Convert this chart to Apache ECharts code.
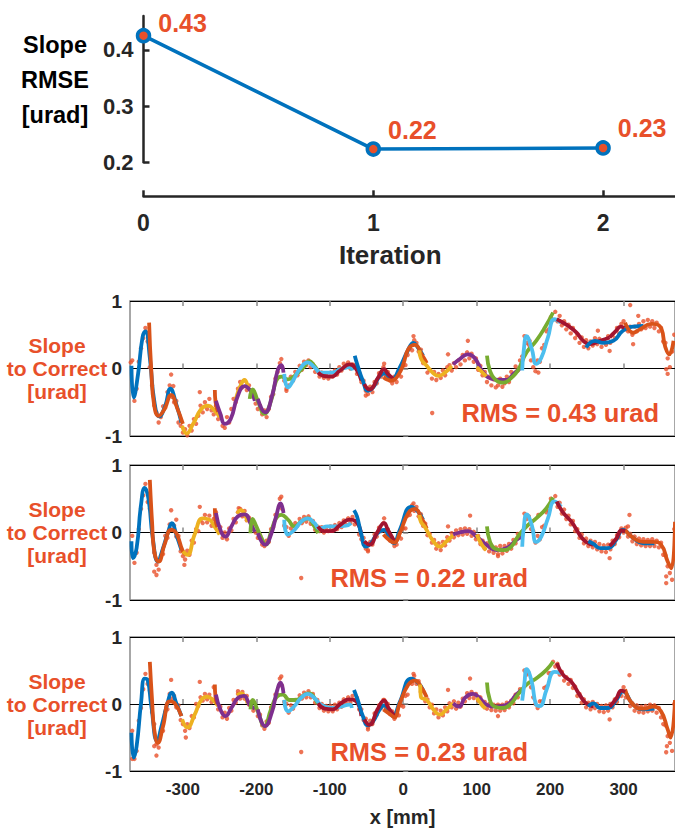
<!DOCTYPE html>
<html>
<head>
<meta charset="utf-8">
<title>Slope RMSE per iteration</title>
<script src="https://cdn.jsdelivr.net/npm/echarts@6/dist/echarts.min.js"></script>
<style>html, body {margin: 0; padding: 0; background: #fff;} #main {width: 675px; height: 828px;}</style>
</head>
<body>
<div id="main"></div>
<script>
// ---- data ----
var iterations = [0, 1, 2];
var rmse = [0.425, 0.2235, 0.2255];
var rmseLabels = ['0.43', '0.22', '0.23'];
var iterTicks = [0, 1, 2];
var rmseTicks = [0.2, 0.3, 0.4];
var xTicks = [-300, -200, -100, 0, 100, 200, 300];
var rmsNames = ['RMS = 0.43 urad', 'RMS = 0.22 urad', 'RMS = 0.23 urad'];
var rmseTitle = ['Slope', 'RMSE', '[urad]'];
var slopeTitle = ['Slope', 'to Correct', '[urad]'];

// measured slope to correct, iteration 0
var resid0 = [[-369,0.12],[-366,-0.48],[-363,-0.3],[-360,0.1],[-357,0.3],[-354,0.45],[-351,0.6],[-348,0.4],[-345,0.02],[-342,-0.25],
[-339,-0.55],[-336,-0.65],[-333,-0.8],[-330,-0.72],[-327,-0.56],[-324,-0.58],[-321,-0.35],[-318,-0.25],[-315,-0.42],[-312,-0.5],
[-309,-0.48],[-306,-0.8],[-303,-0.85],[-300,-0.95],[-297,-0.9],[-294,-0.99],[-291,-0.85],[-288,-0.92],[-285,-0.75],[-282,-0.82],
[-279,-0.7],[-276,-0.55],[-273,-0.65],[-270,-0.5],[-267,-0.6],[-264,-0.45],[-261,-0.62],[-258,-0.68],[-255,-0.55],[-252,-0.75],
[-249,-0.7],[-246,-0.85],[-243,-0.88],[-240,-0.72],[-237,-0.8],[-234,-0.6],[-231,-0.45],[-228,-0.5],[-225,-0.3],[-222,-0.2],
[-219,-0.28],[-216,-0.18],[-213,-0.32],[-210,-0.25],[-207,-0.4],[-204,-0.35],[-201,-0.52],[-198,-0.6],[-195,-0.55],[-192,-0.68],
[-189,-0.62],[-186,-0.72],[-183,-0.6],[-180,-0.42],[-177,-0.38],[-174,-0.15],[-171,-0.05],[-168,0.08],[-165,0.02],[-162,-0.18],
[-159,-0.3],[-156,-0.25],[-153,-0.12],[-150,-0.18],[-147,-0.05],[-144,-0.1],[-141,0.04],[-138,-0.02],[-135,0.1],[-132,0.05],
[-129,0.12],[-126,0.02],[-123,0.06],[-120,-0.05],[-117,-0.02],[-114,-0.12],[-111,-0.06],[-108,-0.14],[-105,-0.08],[-102,-0.15],
[-99,-0.06],[-96,-0.12],[-93,-0.03],[-90,-0.09],[-87,0.02],[-84,-0.03],[-81,0.07],[-78,0.02],[-75,0.09],[-72,0.0],
[-69,0.06],[-66,0.05],[-63,-0.08],[-60,-0.06],[-57,-0.2],[-54,-0.18],[-51,-0.33],[-48,-0.38],[-45,-0.27],[-42,-0.35],
[-39,-0.2],[-36,-0.22],[-33,-0.07],[-30,-0.12],[-27,0.02],[-24,-0.1],[-21,-0.05],[-18,-0.18],[-15,-0.22],[-12,-0.12],
[-9,-0.2],[-6,-0.08],[-3,-0.12],[0,0.04],[3,0.05],[6,0.2],[9,0.3],[12,0.27],[15,0.42],[18,0.38],
[21,0.25],[24,0.28],[27,0.08],[30,0.1],[33,-0.06],[36,-0.02],[39,-0.15],[42,-0.05],[45,-0.17],[48,-0.08],
[51,-0.14],[54,-0.03],[57,-0.1],[60,0.02],[63,0.05],[66,-0.03],[69,0.08],[72,0.02],[75,0.12],[78,0.06],
[81,0.2],[84,0.12],[87,0.24],[90,0.15],[93,0.22],[96,0.1],[99,0.15],[102,-0.02],[105,0.04],[108,-0.1],
[111,-0.05],[114,-0.2],[117,-0.12],[120,-0.25],[123,-0.16],[126,-0.28],[129,-0.25],[132,-0.15],[135,-0.27],[138,-0.22],
[141,-0.12],[144,-0.2],[147,-0.05],[150,-0.1],[153,0.03],[156,-0.03],[159,0.12],[162,0.18],[165,0.48],[168,0.38],
[171,0.35],[174,0.12],[177,0.02],[180,-0.04],[183,0.12],[186,0.1],[189,0.3],[192,0.35],[195,0.55],[198,0.58],
[201,0.76],[204,0.72],[207,0.84],[210,0.7],[213,0.78],[216,0.64],[219,0.7],[222,0.58],[225,0.65],[228,0.52],
[231,0.6],[234,0.45],[237,0.5],[240,0.38],[243,0.46],[246,0.32],[249,0.42],[252,0.3],[255,0.4],[258,0.34],
[261,0.45],[264,0.36],[267,0.44],[270,0.32],[273,0.42],[276,0.35],[279,0.48],[282,0.38],[285,0.5],[288,0.45],
[291,0.6],[294,0.52],[297,0.66],[300,0.7],[303,0.58],[306,0.55],[309,0.62],[312,0.5],[315,0.62],[318,0.55],
[321,0.66],[324,0.58],[327,0.7],[330,0.6],[333,0.72],[336,0.62],[339,0.7],[342,0.6],[345,0.68],[348,0.55],
[351,0.6],[354,0.4],[357,0.38],[360,0.15],[363,0.02],[366,0.25],[369,0.5],
[-371,0.09],[-316,-0.09],[-313,-0.26],[-277,-0.35],[-166,0.14],[-159,-0.33],[-26,0.07],[-51,-0.4],[14,0.48],[61,0.21],
[88,0.41],[184,-0.06],[172,0.41],[265,0.56],[281,0.26],[309,0.94],[313,0.36],[320,0.78],[358,-0.01],[360,-0.08]];

// iteration 1
var resid1 = [[-369,-0.05],[-366,-0.45],[-363,-0.3],[-360,0.05],[-357,0.35],[-354,0.55],[-351,0.72],[-348,0.45],[-345,0.35],[-342,0.0],
[-339,-0.3],[-336,-0.48],[-333,-0.55],[-330,-0.35],[-327,-0.32],[-324,-0.05],[-321,-0.08],[-318,0.12],[-315,0.04],[-312,0.1],
[-309,-0.06],[-306,-0.05],[-303,-0.28],[-300,-0.35],[-297,-0.4],[-294,-0.27],[-291,-0.33],[-288,-0.12],[-285,-0.15],[-282,0.05],
[-279,0.02],[-276,0.18],[-273,0.14],[-270,0.26],[-267,0.15],[-264,0.25],[-261,0.1],[-258,0.2],[-255,0.3],[-252,0.02],
[-249,0.08],[-246,-0.08],[-243,0.0],[-240,-0.1],[-237,0.06],[-234,0.03],[-231,0.2],[-228,0.15],[-225,0.3],[-222,0.35],
[-219,0.24],[-216,0.32],[-213,0.18],[-210,0.22],[-207,0.06],[-204,0.12],[-201,0.0],[-198,-0.08],[-195,-0.04],[-192,-0.18],
[-189,-0.2],[-186,-0.12],[-183,-0.14],[-180,0.05],[-177,0.08],[-174,0.26],[-171,0.25],[-168,0.5],[-165,0.35],[-162,0.1],
[-159,0.08],[-156,-0.05],[-153,0.06],[-150,0.02],[-147,0.14],[-144,0.1],[-141,0.2],[-138,0.14],[-135,0.23],[-132,0.16],
[-129,0.24],[-126,0.13],[-123,0.17],[-120,0.04],[-117,0.09],[-114,0.02],[-111,0.08],[-108,0.0],[-105,0.07],[-102,0.02],
[-99,0.09],[-96,0.03],[-93,0.11],[-90,0.05],[-87,0.14],[-84,0.08],[-81,0.18],[-78,0.12],[-75,0.21],[-72,0.14],
[-69,0.23],[-66,0.12],[-63,0.16],[-60,-0.03],[-57,-0.1],[-54,-0.08],[-51,-0.24],[-48,-0.26],[-45,-0.14],[-42,-0.18],
[-39,-0.03],[-36,-0.06],[-33,0.07],[-30,0.02],[-27,0.14],[-24,0.02],[-21,0.05],[-18,-0.12],[-15,-0.1],[-12,-0.2],
[-9,-0.18],[-6,-0.06],[-3,-0.09],[0,0.06],[3,0.06],[6,0.25],[9,0.26],[12,0.4],[15,0.32],[18,0.38],
[21,0.24],[24,0.27],[27,0.1],[30,0.13],[33,-0.04],[36,-0.02],[39,-0.15],[42,-0.11],[45,-0.24],[48,-0.16],
[51,-0.26],[54,-0.14],[57,-0.19],[60,-0.07],[63,-0.12],[66,-0.01],[69,-0.07],[72,0.03],[75,-0.04],[78,0.05],
[81,-0.03],[84,0.06],[87,-0.02],[90,0.05],[93,-0.05],[96,0.01],[99,-0.1],[102,-0.05],[105,-0.17],[108,-0.12],
[111,-0.24],[114,-0.16],[117,-0.28],[120,-0.19],[123,-0.3],[126,-0.22],[129,-0.32],[132,-0.2],[135,-0.31],[138,-0.2],
[141,-0.27],[144,-0.17],[147,-0.24],[150,-0.11],[153,-0.16],[156,-0.02],[159,-0.07],[162,0.0],[165,0.28],[168,0.2],
[171,0.24],[174,0.05],[177,0.02],[180,-0.15],[183,-0.05],[186,-0.1],[189,0.08],[192,0.1],[195,0.3],[198,0.32],
[201,0.5],[204,0.46],[207,0.54],[210,0.38],[213,0.44],[216,0.28],[219,0.34],[222,0.2],[225,0.25],[228,0.12],
[231,0.17],[234,0.02],[237,0.05],[240,-0.08],[243,-0.03],[246,-0.16],[249,-0.09],[252,-0.2],[255,-0.12],[258,-0.22],
[261,-0.14],[264,-0.25],[267,-0.17],[270,-0.28],[273,-0.19],[276,-0.29],[279,-0.18],[282,-0.25],[285,-0.12],[288,-0.17],
[291,-0.04],[294,-0.07],[297,0.06],[300,0.0],[303,0.07],[306,-0.06],[309,-0.02],[312,-0.13],[315,-0.06],[318,-0.17],
[321,-0.09],[324,-0.19],[327,-0.1],[330,-0.2],[333,-0.11],[336,-0.2],[339,-0.1],[342,-0.2],[345,-0.12],[348,-0.22],
[351,-0.15],[354,-0.33],[357,-0.34],[360,-0.5],[363,-0.6],[366,-0.7],[369,0.05],
[-316,0.33],[-309,0.19],[-277,0.38],[-339,-0.58],[-336,-0.63],[-298,-0.48],[-166,0.53],[-224,0.36],[-48,-0.28],[-26,0.21],
[14,0.43],[91,0.25],[61,0.09],[129,-0.35],[184,0.26],[308,0.26],[306,0.09],[281,-0.38],[358,-0.75],[358,-0.65]];

// iteration 2
var resid2 = [[-369,-0.4],[-366,-0.82],[-363,-0.7],[-360,-0.25],[-357,-0.06],[-354,0.22],[-351,0.45],[-348,0.3],[-345,0.2],[-342,-0.12],
[-339,-0.3],[-336,-0.6],[-333,-0.65],[-330,-0.42],[-327,-0.4],[-324,-0.12],[-321,-0.08],[-318,0.15],[-315,0.08],[-312,0.12],
[-309,-0.05],[-306,-0.02],[-303,-0.24],[-300,-0.3],[-297,-0.4],[-294,-0.3],[-291,-0.36],[-288,-0.18],[-285,-0.2],[-282,0.0],
[-279,-0.03],[-276,0.1],[-273,0.05],[-270,0.15],[-267,0.07],[-264,0.14],[-261,0.03],[-258,0.25],[-255,0.1],[-252,-0.08],
[-249,-0.04],[-246,-0.2],[-243,-0.13],[-240,-0.22],[-237,-0.06],[-234,-0.1],[-231,0.06],[-228,0.02],[-225,0.15],[-222,0.08],
[-219,0.18],[-216,0.08],[-213,0.12],[-210,-0.01],[-207,0.03],[-204,-0.1],[-201,-0.05],[-198,-0.18],[-195,-0.16],[-192,-0.32],
[-189,-0.37],[-186,-0.26],[-183,-0.28],[-180,-0.05],[-177,-0.04],[-174,0.14],[-171,0.14],[-168,0.38],[-165,0.27],[-162,0.03],
[-159,0.0],[-156,-0.13],[-153,-0.02],[-150,-0.07],[-147,0.06],[-144,0.02],[-141,0.13],[-138,0.08],[-135,0.17],[-132,0.1],
[-129,0.19],[-126,0.1],[-123,0.15],[-120,0.02],[-117,0.06],[-114,-0.06],[-111,0.0],[-108,-0.1],[-105,-0.03],[-102,-0.11],
[-99,-0.03],[-96,-0.11],[-93,-0.01],[-90,-0.08],[-87,0.02],[-84,-0.04],[-81,0.07],[-78,0.01],[-75,0.1],[-72,0.02],
[-69,0.12],[-66,0.06],[-63,0.09],[-60,-0.08],[-57,-0.08],[-54,-0.24],[-51,-0.22],[-48,-0.35],[-45,-0.25],[-42,-0.3],
[-39,-0.14],[-36,-0.16],[-33,-0.02],[-30,-0.06],[-27,0.06],[-24,-0.04],[-21,0.0],[-18,-0.15],[-15,-0.11],[-12,-0.22],
[-9,-0.12],[-6,-0.17],[-3,-0.02],[0,-0.04],[3,0.12],[6,0.14],[9,0.32],[12,0.3],[15,0.42],[18,0.3],
[21,0.34],[24,0.18],[27,0.2],[30,0.04],[33,0.07],[36,-0.05],[39,-0.01],[42,-0.14],[45,-0.08],[48,-0.2],
[51,-0.1],[54,-0.17],[57,-0.05],[60,-0.11],[63,0.01],[66,-0.05],[69,0.04],[72,-0.07],[75,0.02],[78,-0.04],
[81,0.08],[84,0.04],[87,0.16],[90,0.09],[93,0.18],[96,0.09],[99,0.15],[102,0.05],[105,0.1],[108,-0.02],
[111,0.03],[114,-0.07],[117,0.0],[120,-0.09],[123,-0.01],[126,-0.1],[129,-0.01],[132,-0.1],[135,-0.01],[138,-0.09],
[141,0.02],[144,-0.05],[147,0.05],[150,0.01],[153,0.14],[156,0.1],[159,0.22],[162,0.2],[165,0.5],[168,0.44],
[171,0.46],[174,0.25],[177,0.1],[180,0.0],[183,-0.06],[186,0.04],[189,0.04],[192,0.24],[195,0.26],[198,0.46],
[201,0.46],[204,0.63],[207,0.56],[210,0.6],[213,0.44],[216,0.48],[219,0.35],[222,0.4],[225,0.3],[228,0.36],
[231,0.24],[234,0.26],[237,0.12],[240,0.15],[243,0.02],[246,0.07],[249,-0.05],[252,0.02],[255,-0.08],[258,0.03],
[261,-0.06],[264,0.0],[267,-0.11],[270,-0.03],[273,-0.12],[276,-0.02],[279,-0.1],[282,0.0],[285,-0.05],[288,0.07],
[291,0.03],[294,0.15],[297,0.12],[300,0.25],[303,0.1],[306,0.1],[309,-0.03],[312,0.01],[315,-0.1],[318,-0.02],
[321,-0.12],[324,-0.04],[327,-0.13],[330,-0.03],[333,-0.11],[336,-0.01],[339,-0.1],[342,-0.02],[345,-0.13],[348,-0.06],
[351,-0.2],[354,-0.3],[357,-0.32],[360,-0.48],[363,-0.58],[366,-0.7],[369,0.0],
[-369,-0.82],[-316,0.36],[-277,0.33],[-339,-0.63],[-336,-0.77],[-296,-0.5],[-225,0.19],[-166,0.41],[-48,-0.38],[-26,0.06],
[14,0.45],[91,0.38],[61,0.21],[129,-0.18],[308,0.43],[281,-0.23],[358,-0.72],[359,-0.63]];

// piecewise fitted curves, one list of [x, slope] per window
var fits0 = [
[[-370,0.04],[-367,-0.43],[-361,-0.08],[-355,0.46],[-351,0.55],[-345,0.16],[-339,-0.48],[-332,-0.71],[-324,-0.55],[-317,-0.3],[-309,-0.53],[-302,-0.8]],
[[-346,0.68],[-343,-0.03],[-339,-0.55],[-333,-0.7],[-325,-0.6],[-316,-0.39],[-308,-0.58],[-300,-0.82]],
[[-301,-0.85],[-295,-0.96],[-286,-0.82],[-275,-0.6],[-266,-0.55],[-257,-0.62],[-250,-0.72]],
[[-228,-0.45],[-221,-0.24],[-216,-0.17],[-212,-0.26]],
[[-256.5,-0.32],[-255.5,-0.5],[-252,-0.64]],
[[-255,-0.48],[-249,-0.67],[-243,-0.82],[-235,-0.75],[-226,-0.43],[-216,-0.26],[-208,-0.33],[-202,-0.48]],
[[-209,-0.45],[-205,-0.31],[-198,-0.48],[-189,-0.67],[-180,-0.48],[-173,-0.18],[-166,-0.12],[-157,-0.16],[-148,-0.11],[-134,0.04],[-128,0.11],[-121,0.04],[-116,-0.04]],
[[-198,-0.45],[-188,-0.65],[-178,-0.38],[-171,-0.03],[-166,0.05],[-163,-0.06]],
[[-162,-0.08],[-157,-0.28],[-150,-0.18],[-141,-0.01],[-130,0.09],[-121,0.02],[-112,-0.06],[-98,-0.06],[-85,-0.01],[-73,0.02],[-69,-0.03]],
[[-116,-0.06],[-109,-0.11],[-98,-0.12],[-86,-0.03],[-73,0.06],[-64,-0.01],[-57,-0.18]],
[[-66,0.19],[-62,0.04],[-55,-0.18],[-48,-0.33],[-41,-0.28],[-32,-0.11],[-25,-0.07],[-16,-0.17],[-5,0.01],[6,0.26],[14,0.38],[20,0.31],[27,0.19]],
[[-53,-0.23],[-46,-0.31],[-34,-0.13],[-26,-0.01],[-21,-0.08],[-14,-0.15]],
[[-27,-0.13],[-16,-0.18],[-7,-0.1],[0,0.06],[7,0.29],[16,0.35],[25,0.21],[32,0.08]],
[[22,0.27],[24,0.15],[32,0.04],[41,-0.07],[48,-0.11],[57,-0.06],[66,0.04]],
[[68,0.06],[77,0.14],[88,0.21],[97,0.16],[109,-0.06],[120,-0.15],[131,-0.17],[141,-0.17],[150,-0.08],[161,0.02]],
[[100,0.02],[107,-0.05],[113,-0.12]],
[[114,0.19],[118,-0.03],[125,-0.16],[136,-0.21],[147,-0.14],[156,-0.03],[168,0.24],[181,0.41],[193,0.61],[204,0.83]],
[[162,-0.03],[164,0.26],[168,0.48],[175,0.29],[181,0.07],[188,0.16],[197,0.46],[206,0.73],[215,0.68]],
[[209,0.73],[222,0.65],[236,0.53],[245,0.41],[254,0.36],[268,0.41],[281,0.46]],
[[249,0.31],[261,0.41],[272,0.38],[286,0.41],[299,0.56],[313,0.62],[327,0.63]],
[[302,0.68],[313,0.53],[322,0.58],[338,0.66],[349,0.63],[357,0.31],[362,0.21],[368,0.41]],
[[281,0.46],[290,0.56],[296,0.62],[301,0.6]]
];
var fits1 = [
[[-370,-0.13],[-368,-0.38],[-363,-0.23],[-357,0.41],[-352,0.66],[-347,0.51],[-341,-0.08],[-334,-0.43],[-327,-0.23],[-320,0.01],[-315,0.14],[-309,-0.03],[-302,-0.26]],
[[-345,0.78],[-342,0.16],[-339,-0.28],[-333,-0.43],[-325,-0.18],[-316,0.04],[-309,-0.01],[-300,-0.28],[-295,-0.33]],
[[-300,-0.28],[-294,-0.33],[-284,-0.03],[-273,0.21],[-264,0.19],[-257,0.09],[-250,-0.03]],
[[-226,0.28],[-221,0.33],[-216,0.27],[-212,0.16]],
[[-256.5,0.36],[-255.5,0.18],[-253,0.08]],
[[-255,0.29],[-248,0.01],[-242,-0.06],[-234,0.09],[-225,0.24],[-216,0.27],[-207,0.11],[-202,0.01]],
[[-208,-0.01],[-205,0.2],[-200,0.09],[-193,-0.08],[-187,-0.18],[-180,0.01],[-173,0.21],[-166,0.26],[-157,0.19],[-148,0.09],[-139,0.16],[-130,0.21],[-121,0.09],[-116,-0.01]],
[[-198,-0.01],[-188,-0.18],[-180,-0.03],[-173,0.24],[-167,0.43],[-163,0.29]],
[[-162,0.19],[-157,-0.03],[-148,0.04],[-139,0.16],[-130,0.21],[-121,0.14],[-114,0.06],[-103,0.09],[-89,0.09],[-78,0.1],[-71,0.14]],
[[-116,0.09],[-107,0.02],[-98,0.02],[-86,0.11],[-73,0.19],[-64,0.16],[-57,-0.03]],
[[-67,0.33],[-63,0.24],[-57,-0.03],[-51,-0.21],[-44,-0.16],[-35,-0.01],[-26,0.04],[-18,-0.1],[-13,-0.16],[-5,0.03],[11,0.38],[20,0.31],[27,0.19]],
[[-53,-0.13],[-46,-0.18],[-35,0.01],[-26,0.14],[-21,0.04],[-12,-0.13]],
[[-27,-0.03],[-18,-0.12],[-12,-0.15],[-5,-0.02],[7,0.29],[16,0.35],[25,0.21],[32,0.06]],
[[22,0.26],[24,0.16],[29,0.09],[41,-0.13],[50,-0.21],[59,-0.13],[68,-0.04]],
[[68,-0.03],[77,0.0],[88,0.02],[100,-0.06],[113,-0.18],[127,-0.26],[141,-0.23],[154,-0.11],[161,-0.06]],
[[100,-0.03],[107,-0.18],[113,-0.26]],
[[114,0.09],[118,-0.13],[125,-0.24],[136,-0.26],[147,-0.21],[156,-0.06],[168,0.09],[181,0.21],[195,0.36],[204,0.52]],
[[162,-0.21],[164,0.06],[168,0.27],[175,0.11],[181,-0.14],[188,-0.06],[197,0.21],[206,0.46],[215,0.38]],
[[209,0.46],[218,0.29],[229,0.16],[240,-0.03],[249,-0.14],[259,-0.18]],
[[252,-0.13],[259,-0.17],[268,-0.23],[279,-0.23],[290,-0.11],[299,0.04],[313,-0.08],[327,-0.16],[342,-0.16]],
[[302,0.04],[313,-0.08],[327,-0.14],[340,-0.14],[351,-0.18],[360,-0.43],[365,-0.53],[370,0.16]],
[[281,-0.2],[290,-0.09],[297,0.03],[302,0.02]]
];
var fits2 = [
[[-370,-0.43],[-367,-0.8],[-363,-0.63],[-357,0.01],[-352,0.38],[-348,0.36],[-343,-0.03],[-335,-0.55],[-329,-0.33],[-321,0.01],[-315,0.17],[-309,0.01],[-302,-0.18]],
[[-345,0.63],[-342,0.06],[-339,-0.38],[-334,-0.58],[-327,-0.33],[-318,0.04],[-311,0.01],[-302,-0.18]],
[[-301,-0.23],[-294,-0.35],[-284,-0.16],[-275,0.06],[-267,0.11],[-259,0.06],[-252,-0.03]],
[[-226,0.13],[-221,0.16],[-216,0.12],[-212,0.01]],
[[-256.5,0.29],[-255.5,0.1],[-253,0.0]],
[[-255,0.14],[-249,-0.08],[-242,-0.18],[-234,-0.06],[-225,0.09],[-217,0.12],[-209,-0.01],[-202,-0.07]],
[[-208,-0.08],[-205,0.06],[-198,-0.11],[-189,-0.33],[-180,-0.08],[-172,0.11],[-164,0.14],[-155,0.06],[-146,0.06],[-134,0.14],[-128,0.16],[-119,0.06],[-116,-0.01]],
[[-198,-0.08],[-188,-0.33],[-179,-0.13],[-172,0.19],[-167,0.32],[-163,0.16]],
[[-162,0.06],[-157,-0.11],[-148,-0.03],[-139,0.09],[-130,0.15],[-121,0.09],[-112,-0.01],[-98,-0.06],[-85,-0.04],[-73,-0.01],[-70,-0.06]],
[[-116,0.01],[-107,-0.07],[-96,-0.08],[-85,0.01],[-73,0.07],[-64,0.04],[-57,-0.18]],
[[-67,0.21],[-62,0.06],[-55,-0.18],[-48,-0.32],[-41,-0.26],[-32,-0.08],[-26,-0.02],[-18,-0.13],[-14,-0.18],[-5,0.02],[11,0.38],[20,0.32],[27,0.21]],
[[-53,-0.23],[-46,-0.31],[-35,-0.08],[-26,0.05],[-20,-0.06],[-12,-0.18]],
[[-27,-0.08],[-17,-0.16],[-12,-0.2],[-5,0.0],[7,0.29],[16,0.35],[25,0.24],[32,0.1]],
[[23,0.29],[24,0.11],[32,0.06],[41,-0.08],[50,-0.16],[59,-0.08],[68,0.01]],
[[68,0.01],[76,-0.04],[84,0.09],[95,0.15],[104,0.09],[113,-0.01],[127,-0.04],[141,-0.01],[154,0.14],[161,0.21]],
[[100,0.09],[107,-0.01],[112,-0.07]],
[[114,0.32],[118,0.06],[125,-0.04],[136,-0.06],[147,0.01],[156,0.14],[168,0.29],[181,0.38],[195,0.51],[204,0.63]],
[[162,0.05],[165,0.31],[168,0.52],[175,0.33],[181,-0.01],[186,-0.03],[195,0.21],[206,0.48],[215,0.46]],
[[209,0.61],[218,0.43],[229,0.33],[240,0.14],[249,0.01],[259,-0.04]],
[[252,-0.04],[259,0.01],[268,-0.06],[279,-0.06],[290,0.06],[299,0.19],[313,-0.01],[327,-0.08],[342,-0.07]],
[[302,0.22],[313,-0.01],[327,-0.07],[340,-0.04],[351,-0.11],[360,-0.38],[364,-0.5],[370,0.06]],
[[281,-0.04],[290,0.08],[297,0.2],[302,0.18]]
];

// ---- styling ----
var palette = ['#0072BD', '#D95319', '#EDB120', '#7E2F8E', '#77AC30', '#4DBEEE', '#A2142F'];
var fitColors = [0, 1, 2, 2, 1, 3, 4, 3, 5, 6, 0, 6, 1, 2, 3, 2, 4, 5, 6, 0, 1, 6];
var labelOffsets = [[2, -13], [2, -19], [2, -20]];
var red = '#E8502A';
var ink = '#262626';
var boxGrey = '#8a8a8a';
var font = '"Liberation Sans", Arial, sans-serif';

var resids = [resid0, resid1, resid2];
var fits = [fits0, fits1, fits2];
var panelTop = [301, 465, 637];
var panelH = 135;
var legendPos = [[430, 399], [299, 564], [299, 738]];

var chart = echarts.init(document.getElementById('main'), null, {renderer: 'svg'});

var grids = [{left: 143.5, top: 16, width: 531.5, height: 146.3}];
var xAxes = [{
  gridIndex: 0, type: 'value', min: 0, max: 2.313, interval: 1, offset: 34,
  axisLine: {show: true, onZero: false, lineStyle: {color: ink, width: 2.5}},
  axisTick: {show: true, inside: true, length: 6, customValues: iterTicks, lineStyle: {color: ink, width: 2.5}},
  axisLabel: {customValues: iterTicks, fontSize: 23, fontWeight: 'bold', color: ink, fontFamily: font, margin: 15},
  splitLine: {show: false},
  name: 'Iteration', nameLocation: 'middle', nameGap: 46,
  nameTextStyle: {fontSize: 26, fontWeight: 'bold', color: ink, fontFamily: font, padding: [0, 38, 0, 0]}
}];
var yAxes = [{
  gridIndex: 0, type: 'value', min: 0.2, max: 0.46, interval: 0.1,
  axisLine: {show: true, onZero: false, lineStyle: {color: ink, width: 2.5}},
  axisTick: {show: true, inside: true, length: 6, customValues: rmseTicks, lineStyle: {color: ink, width: 2.5}},
  axisLabel: {customValues: rmseTicks, fontSize: 22, fontWeight: 'bold', color: ink, fontFamily: font, margin: 10,
    formatter: function (v) { return v.toFixed(1); }},
  splitLine: {show: false}
}];
var series = [{
  type: 'line', xAxisIndex: 0, yAxisIndex: 0, clip: false,
  data: iterations.map(function (x, i) {
    return {value: [x, rmse[i]], label: {offset: labelOffsets[i]}};
  }),
  lineStyle: {color: '#0072BD', width: 3.5},
  symbol: 'circle', symbolSize: 12,
  itemStyle: {color: red, borderColor: '#0072BD', borderWidth: 3.5},
  label: {show: true, position: 'right', color: red, fontSize: 25, fontWeight: 'bold', fontFamily: font,
    formatter: function (p) { return rmseLabels[p.dataIndex]; }}
}];
var legends = [];
var graphics = [];

rmseTitle.forEach(function (t, i) {
  graphics.push({type: 'text', x: 55, y: 45 + i * 35, silent: true,
    style: {text: t, fill: '#000', fontSize: 23.5, fontWeight: 'bold', fontFamily: font, align: 'center', verticalAlign: 'middle'}});
});

for (var p = 0; p < 3; p++) {
  var gi = p + 1;
  var last = p === 2;
  grids.push({left: 130, width: 545, top: panelTop[p], height: panelH, show: true, borderColor: boxGrey, borderWidth: 1.5});
  var tickStyle = {show: true, inside: true, length: 5, customValues: xTicks, lineStyle: {color: boxGrey, width: 1.5}};
  xAxes.push({
    gridIndex: gi, type: 'value', min: -372, max: 370, position: 'bottom',
    axisLine: {show: false}, axisTick: tickStyle,
    axisLabel: {show: last, customValues: xTicks, fontSize: 17, fontWeight: 'bold', color: ink, fontFamily: font, margin: 10},
    splitLine: {show: false},
    name: last ? 'x [mm]' : '', nameLocation: 'middle', nameGap: 36,
    nameTextStyle: {fontSize: 20, fontWeight: 'bold', color: ink, fontFamily: font}
  });
  xAxes.push({
    gridIndex: gi, type: 'value', min: -372, max: 370, position: 'top',
    axisLine: {show: false}, axisTick: tickStyle, axisLabel: {show: false}, splitLine: {show: false}
  });
  yAxes.push({
    gridIndex: gi, type: 'value', min: -1, max: 1, interval: 1,
    axisLine: {show: false},
    axisTick: {show: true, inside: true, length: 5, lineStyle: {color: boxGrey, width: 1.5}},
    axisLabel: {fontSize: 19, fontWeight: 'bold', color: ink, fontFamily: font, margin: 8},
    splitLine: {show: true, lineStyle: {color: '#000', width: 1}}
  });
  series.push({
    type: 'scatter', name: rmsNames[p], xAxisIndex: 1 + 2 * p, yAxisIndex: gi,
    data: resids[p], symbol: 'circle', symbolSize: 4.4, itemStyle: {color: red}, z: 2, silent: true
  });
  fits[p].forEach(function (seg, s) {
    series.push({
      type: 'line', xAxisIndex: 1 + 2 * p, yAxisIndex: gi, data: seg, smooth: 0.5,
      symbol: 'none', silent: true, z: 3,
      lineStyle: {color: palette[fitColors[s]], width: 3.8}
    });
  });
  legends.push({
    data: [rmsNames[p]], left: legendPos[p][0], top: legendPos[p][1], padding: 0,
    itemWidth: 4.4, itemHeight: 4.4, icon: 'circle', selectedMode: false,
    textStyle: {color: red, fontSize: 25.5, fontWeight: 'bold', fontFamily: font, padding: [0, 0, 0, 22], lineHeight: 28}
  });
  var zeroY = panelTop[p] + panelH / 2;
  slopeTitle.forEach(function (t, i) {
    graphics.push({type: 'text', x: 57, y: zeroY + (i - 1) * 23, silent: true,
      style: {text: t, fill: red, fontSize: 21, fontWeight: 'bold', fontFamily: font, align: 'center', verticalAlign: 'middle'}});
  });
}

chart.setOption({
  animation: false,
  backgroundColor: '#fff',
  grid: grids,
  xAxis: xAxes,
  yAxis: yAxes,
  legend: legends,
  graphic: graphics,
  series: series
});
</script>
</body>
</html>
